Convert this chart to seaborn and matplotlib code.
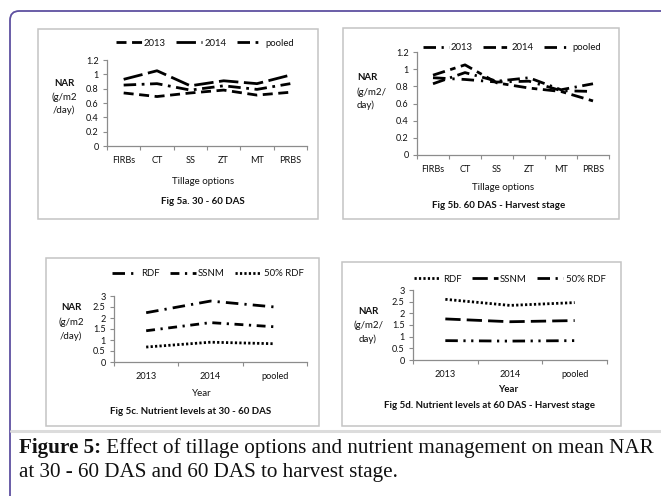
import numpy as np
import pandas as pd
import matplotlib
matplotlib.use("Agg")
import matplotlib.pyplot as plt
import seaborn as sns
from matplotlib.patches import Rectangle, FancyBboxPatch
from matplotlib.lines import Line2D

# ---------------- data ----------------
tillage = ["FIRBs", "CT", "SS", "ZT", "MT", "PRBS"]
year_series = ["2013", "2014", "pooled"]

a_2013 = [0.74, 0.69, 0.74, 0.78, 0.71, 0.75]
a_2014 = [0.93, 1.05, 0.84, 0.91, 0.87, 0.99]
a_pooled = [0.85, 0.87, 0.78, 0.84, 0.79, 0.87]

b_2013 = [0.83, 0.96, 0.86, 0.90, 0.76, 0.83]
b_2014 = [0.93, 1.05, 0.84, 0.78, 0.74, 0.63]
b_pooled = [0.90, 0.88, 0.85, 0.86, 0.75, 0.74]

years = ["2013", "2014", "pooled"]
nutrient_series = ["RDF", "SSNM", "50% RDF"]

c_rdf = [2.24, 2.77, 2.50]
c_ssnm = [1.42, 1.79, 1.60]
c_rdf50 = [0.68, 0.90, 0.83]

d_rdf = [2.60, 2.34, 2.46]
d_ssnm = [1.76, 1.64, 1.69]
d_rdf50 = [0.83, 0.81, 0.83]

yt_a = [0, 0.2, 0.4, 0.6, 0.8, 1, 1.2]
yt_c = [0, 0.5, 1, 1.5, 2, 2.5, 3]

# ---------------- figure ----------------
W, H = 661, 496
sns.set_theme(style="white")
plt.rcParams['font.family'] = ['Lato', 'DejaVu Sans']
fig = plt.figure(figsize=(W / 100, H / 100), dpi=100)
fig.patch.set_facecolor("white")

GRAY = "#8c8c8c"
INK = "#111111"


def fx(x):
    return x / W


def fy(y):
    return 1 - y / H


def add_ax(l, t, r, b):
    return fig.add_axes([fx(l), fy(b), (r - l) / W, (b - t) / H])


def fmt(v):
    return ("%g" % v)


def panel(ax, cats, names, values, dashes, ylim, yticks):
    df = pd.DataFrame({
        "cat": np.tile(cats, len(names)),
        "series": np.repeat(names, len(cats)),
        "val": np.concatenate([np.asarray(v, float) for v in values]),
    })
    sns.lineplot(data=df, x="cat", y="val", hue="series", style="series",
                 hue_order=names, style_order=names,
                 palette={n: "black" for n in names},
                 dashes={n: d for n, d in zip(names, dashes)},
                 linewidth=2.0, sort=False, legend=False, ax=ax)
    n = len(cats)
    ax.set_xlim(-0.5, n - 0.5)
    ax.set_ylim(*ylim)
    ax.set_xticks(range(n))
    ax.set_xticklabels(cats)
    ax.set_xticks(np.arange(n + 1) - 0.5, minor=True)
    ax.tick_params(axis="x", which="major", length=0, pad=7, labelsize=6.6, colors=INK)
    ax.tick_params(axis="x", which="minor", length=3, width=0.8, color=GRAY, direction="out", bottom=True)
    ax.set_yticks(yticks)
    ax.set_yticklabels([fmt(v) for v in yticks])
    ax.tick_params(axis="y", length=3, width=0.8, color=GRAY, direction="out", left=True, pad=3,
                   labelsize=6.6, labelcolor=INK)
    for s in ["top", "right"]:
        ax.spines[s].set_visible(False)
    for s in ["left", "bottom"]:
        ax.spines[s].set_color(GRAY)
        ax.spines[s].set_linewidth(0.9)
    ax.set_xlabel("")
    ax.set_ylabel("")
    ax.patch.set_alpha(0)
    ax.grid(False)


def legend(names, dashes, cx, cy):
    handles = [Line2D([], [], color="black", lw=2.0, dashes=d) for d in dashes]
    fig.legend(handles, names, loc="center", bbox_to_anchor=(fx(cx), fy(cy)),
               ncol=3, frameon=False, fontsize=6.9, handlelength=2.7,
               handletextpad=0.25, columnspacing=1.1, borderpad=0, borderaxespad=0,
               labelcolor=INK)


def txt(x, y, s, bold=False, ha="center", size=7.0):
    fig.text(fx(x), fy(y), s, ha=ha, va="center", fontsize=size,
             fontweight="bold" if bold else "normal", color=INK)


# outer frame and panel boxes
frame = FancyBboxPatch((fx(10), fy(560)), fx(720), (560 - 11) / H,
                       boxstyle="round,pad=0,rounding_size=0.014",
                       transform=fig.transFigure, fill=False,
                       edgecolor="#5e50a0", lw=1.3, mutation_aspect=W / H)
fig.patches.append(frame)
for (l, t, r, b) in [(38, 29, 318, 219), (343, 28, 619, 219),
                     (46, 258, 319, 426), (342, 262, 621, 426)]:
    fig.patches.append(Rectangle((fx(l), fy(b)), (r - l) / W, (b - t) / H,
                                 transform=fig.transFigure, fill=False,
                                 edgecolor="#c4c4c4", lw=1.1))
fig.add_artist(Line2D([fx(11), fx(661)], [fy(431), fy(431)], transform=fig.transFigure,
                      color="#dcdcdc", lw=2.2))

# ---- panel a ----
dash_a = [(3.6, 2.0), (7.0, 2.0), (4.5, 2.0, 1.0, 2.0)]
ax_a = add_ax(107, 60, 307, 146)
panel(ax_a, tillage, year_series, [a_2013, a_2014, a_pooled], dash_a, (0, 1.2), yt_a)
legend(year_series, dash_a, 205, 43)
txt(64, 83, "NAR", bold=True)
txt(64, 97, "(g/m2")
txt(64, 110, "/day)")
txt(203, 181, "Tillage options")
txt(203, 202, "Fig 5a. 30 - 60 DAS", bold=True)

# ---- panel b ----
dash_b = [(4.5, 2.0, 0.8, 2.0), (4.5, 2.0, 2.0, 2.0), (4.5, 2.5, 0.8, 2.5)]
ax_b = add_ax(417, 52, 609, 155)
panel(ax_b, tillage, year_series, [b_2013, b_2014, b_pooled], dash_b, (0, 1.2), yt_a)
legend(year_series, dash_b, 512, 48)
txt(357, 77, "NAR", bold=True, ha="left")
txt(357, 92, "(g/m2/", ha="left")
txt(357, 105, "day)", ha="left")
txt(503, 187, "Tillage options")
txt(499, 206, "Fig 5b. 60 DAS - Harvest stage", bold=True)

# ---- panel c ----
dash_c = [(4.5, 2.2, 0.8, 2.2), (3.2, 2.0, 0.8, 2.0), (0.8, 0.8)]
ax_c = add_ax(114, 296, 307, 362)
panel(ax_c, years, nutrient_series, [c_rdf, c_ssnm, c_rdf50], dash_c, (0, 3), yt_c)
legend(nutrient_series, dash_c, 208, 274)
txt(71, 307, "NAR", bold=True)
txt(71, 322, "(g/m2")
txt(71, 336, "/day)")
txt(202, 393, "Year")
txt(191, 412, "Fig 5c. Nutrient levels at 30 - 60 DAS", bold=True)

# ---- panel d ----
dash_d = [(0.8, 0.8), (5.5, 2.2), (4.5, 2.0, 0.8, 2.0, 0.8, 2.0)]
ax_d = add_ax(413, 290, 607, 360)
panel(ax_d, years, nutrient_series, [d_rdf, d_ssnm, d_rdf50], dash_d, (0, 3), yt_c)
legend(nutrient_series, dash_d, 510, 279)
txt(368, 312, "NAR", bold=True)
txt(368, 325, "(g/m2/")
txt(368, 339, "day)")
txt(508, 390, "Year", bold=True)
txt(490, 406, "Fig 5d. Nutrient levels at 60 DAS - Harvest stage", bold=True)

# ---- caption ----
renderer = fig.canvas.get_renderer()
serif = ["Liberation Serif", "DejaVu Serif"]
part1 = "Figure 5:"
part2 = " Effect of tillage options and nutrient management on mean NAR"
fs = 14.0
t1 = fig.text(fx(19), fy(448), part1, fontsize=fs, fontweight="bold", family=serif,
              va="center", ha="left", color=INK)
t2 = fig.text(0, fy(448), part2, fontsize=fs, family=serif, va="center", ha="left", color=INK)
w1 = t1.get_window_extent(renderer).width
w2 = t2.get_window_extent(renderer).width
scale = (655 - 19) / (w1 + w2)
fs2 = fs * scale
t1.set_fontsize(fs2)
t2.set_fontsize(fs2)
w1 = t1.get_window_extent(renderer).width
t2.set_x(fx(19 + w1))
fig.text(fx(19), fy(472), "at 30 - 60 DAS and 60 DAS to harvest stage.", fontsize=fs2,
         family=serif, va="center", ha="left", color=INK)

fig.savefig("out.png", dpi=100, facecolor="white")
